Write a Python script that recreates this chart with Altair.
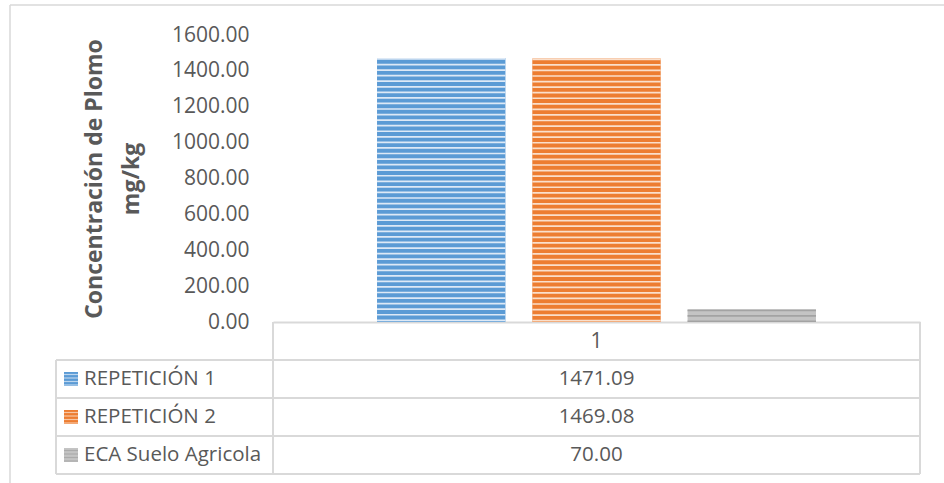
import altair as alt
import numpy as np
import pandas as pd

# ---- data ----
series = ["REPETICIÓN 1", "REPETICIÓN 2", "ECA Suelo Agricola"]
values = [1471.09, 1469.08, 70.00]
category = ["1"]
y_ticks = [0, 200, 400, 600, 800, 1000, 1200, 1400, 1600]

bar_colors = ["#5b9bd5", "#ed7d31", "#c4c4c4"]
stripe_colors = ["#dde9f6", "#fadfcb", "#a3a3a3"]

FONT = "Open Sans"
TXT = "#595959"
LINE = "#d9d9d9"

W, H = 647, 287

df = pd.DataFrame({"cat": category * len(series), "serie": series, "valor": values})
df["txt"] = [f"{v:.2f}" for v in values]

# horizontal stripe pattern (decoration) inside each bar
period, thick = 31.0, 9.5
rows = []
for s, v in zip(series, values):
    k = 0
    while True:
        lo = v - thick - k * period
        if lo < -thick * 0.2:
            break
        rows.append({"cat": category[0], "serie": s, "lo": max(lo, 0), "hi": lo + thick})
        k += 1
stripes = pd.DataFrame(rows)

x_enc = alt.X("cat:N", scale=alt.Scale(paddingInner=0, paddingOuter=0.237),
              axis=alt.Axis(title=None, labelFont=FONT, labelFontSize=21, labelColor=TXT,
                            labelAngle=0, labelBaseline="middle", labelPadding=19,
                            ticks=False, tickSize=0, domainColor=LINE, domainWidth=2))
xo_enc = alt.XOffset("serie:N", sort=series,
                     scale=alt.Scale(domain=series, paddingInner=0.173, paddingOuter=0))

bars = alt.Chart(df).mark_bar().encode(
    x=x_enc,
    xOffset=xo_enc,
    y=alt.Y("valor:Q", scale=alt.Scale(domain=[0, 1600], nice=False),
            axis=alt.Axis(values=y_ticks, format=".2f", grid=False, domain=False, ticks=False,
                          labelFont=FONT, labelFontSize=21, labelColor=TXT, labelPadding=24,
                          title=["Concentración de Plomo", "mg/kg"], titleFont=FONT,
                          titleFontSize=23, titleFontWeight="bold", titleColor=TXT,
                          titleLineHeight=37, titleAngle=-90, titleX=-167, titleY=H / 2,
                          titleAlign="center", titleBaseline="bottom")),
    color=alt.Color("serie:N", scale=alt.Scale(domain=series, range=bar_colors), legend=None),
)

stripe_layer = alt.Chart(stripes).mark_bar().encode(
    x=alt.X("cat:N"),
    xOffset=alt.XOffset("serie:N", sort=series),
    y=alt.Y("lo:Q", scale=alt.Scale(domain=[0, 1600], nice=False), axis=None),
    y2="hi:Q",
    color=alt.Color("serie:N", scale=alt.Scale(domain=series, range=stripe_colors), legend=None),
)

row_y = alt.Y("serie:N", scale=alt.Scale(type="point", domain=series, range=[344, 420], padding=0),
              axis=None)

names = alt.Chart(df).mark_text(align="left", baseline="middle", font=FONT, fontSize=20.5,
                                color=TXT).encode(x=alt.value(-189), y=row_y, text="serie:N")
vals = alt.Chart(df).mark_text(align="center", baseline="middle", font=FONT, fontSize=20.5,
                               color=TXT).encode(x=alt.value(W / 2), y=row_y, text="txt:N")
swatch = alt.Chart(df).mark_square(size=196, opacity=1).encode(
    x=alt.value(-202), y=row_y,
    color=alt.Color("serie:N", scale=alt.Scale(domain=series, range=bar_colors), legend=None))

swatch_stripes = [
    alt.Chart(df).mark_rule(strokeWidth=1.2, opacity=0.75).encode(
        x=alt.value(-209), x2=alt.value(-195), y=row_y, yOffset=alt.value(off),
        color=alt.Color("serie:N", scale=alt.Scale(domain=series, range=stripe_colors), legend=None))
    for off in (-4.5, -1, 2.5, 6)
]


def rule(x1, x2, y1, y2, color=LINE, w=2):
    return alt.Chart(df.head(1)).mark_rule(color=color, strokeWidth=w).encode(
        x=alt.value(x1), x2=alt.value(x2), y=alt.value(y1), y2=alt.value(y2))


frame = [
    # table rows
    rule(-217, W, 325, 325), rule(-217, W, 363, 363), rule(-217, W, 401, 401), rule(-217, W, 439, 439),
    # table columns
    rule(-217, -217, 325, 439), rule(0, 0, 287, 439), rule(W, W, 287, 439),
    # outer chart border
    rule(-263, 671, -30, -30, w=1.5), rule(-263, -263, -30, 448, w=1.5),
]

chart = alt.layer(bars, stripe_layer, *frame, swatch, *swatch_stripes, names, vals).resolve_scale(
    y="independent", color="independent"
).properties(
    width=W, height=H,
    background="white",
    autosize=alt.AutoSizeParams(type="none"),
    padding={"left": 273, "top": 35, "right": 24, "bottom": 161},
).configure_view(strokeWidth=0, stroke="transparent")

chart.save("out.html", embed_options={"renderer": "svg", "actions": False})
